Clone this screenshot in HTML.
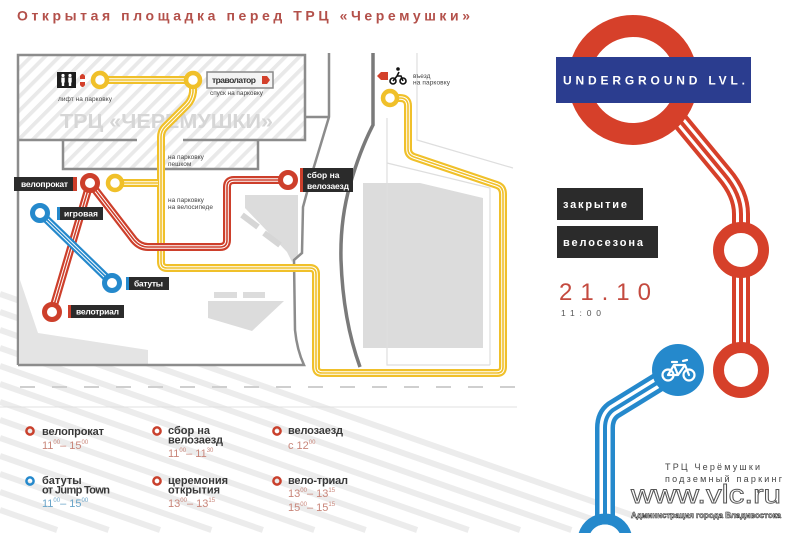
<!DOCTYPE html>
<html><head><meta charset="utf-8"><style>
html,body{margin:0;padding:0;background:#fff;}
body{width:800px;height:533px;overflow:hidden;}
svg{display:block;overflow:hidden;font-family:"Liberation Sans","DejaVu Sans",sans-serif;}
</style></head><body>
<svg width="800" height="533" viewBox="0 0 800 533" xmlns="http://www.w3.org/2000/svg">
<defs>
<pattern id="hatch" width="10" height="10" patternUnits="userSpaceOnUse" patternTransform="rotate(45)">
<rect width="3.8" height="10" fill="#e9e9e9"/></pattern>
</defs>
<rect width="800" height="533" fill="#fff"/>

<!-- background diagonal stripes -->
<g stroke="#ececec" stroke-width="6">
<line x1="0" y1="294" x2="635" y2="516.25"/>
<line x1="0" y1="312" x2="622.9" y2="530"/>
<line x1="0" y1="330" x2="571.4" y2="530"/>
<line x1="0" y1="348" x2="520" y2="530"/>
<line x1="0" y1="366" x2="468.6" y2="530"/>
<line x1="0" y1="384" x2="417.1" y2="530"/>
<line x1="0" y1="402" x2="365.7" y2="530"/>
<line x1="0" y1="420" x2="314.3" y2="530"/>
<line x1="0" y1="438" x2="262.9" y2="530"/>
<line x1="0" y1="456" x2="211.4" y2="530"/>
<line x1="0" y1="474" x2="160" y2="530"/>
<line x1="0" y1="492" x2="108.6" y2="530"/>
<line x1="0" y1="510" x2="57.1" y2="530"/>
</g>

<!-- title -->
<text x="17" y="20.5" font-size="14" font-weight="bold" fill="#b3504a" textLength="453" lengthAdjust="spacing">Открытая площадка перед ТРЦ «Черемушки»</text>

<!-- map interior -->
<rect x="18" y="55" width="287" height="310" fill="#fff"/>
<rect x="19" y="56" width="286" height="84" fill="url(#hatch)"/>
<rect x="63" y="140" width="195" height="29" fill="url(#hatch)"/>
<text x="60" y="128" font-size="20" font-weight="bold" fill="#d6d6d6" textLength="213" lengthAdjust="spacingAndGlyphs">ТРЦ «ЧЕРЕМУШКИ»</text>

<!-- gray shapes -->
<g fill="#dcdcdc">
<path d="M20,280 L38,333 L148,350 L148,365 L20,365 Z" fill="#e4e4e4"/>
<path d="M245,195 L298,195 L298,257 L292,262 L287,252 L245,208 Z"/>
<rect x="214" y="292" width="23" height="6"/>
<rect x="243" y="292" width="22" height="6"/>
<path d="M208,301 L284,301 L252,331 L208,318 Z"/>
<path d="M363,183 L420,183 L483,198 L483,348 L363,348 Z"/>
</g>
<g stroke="#d6d6d6" stroke-width="6"><line x1="242" y1="215" x2="258" y2="227"/><line x1="264" y1="233" x2="280" y2="245"/></g>

<!-- faint lines -->
<g stroke="#dedede" stroke-width="1.2" fill="none">
<path d="M387,118 L387,365 L490,365"/>
<path d="M387,163 L490,188 L490,365"/>
<path d="M417,53 L417,140 L513,168"/>
</g>

<!-- map outlines -->
<g stroke="#8c8c8c" stroke-width="2.5" fill="none">
<path d="M18,365 L18,55 L305,55 L305,140 L183,140"/>
<path d="M137,140 L18,140"/>
<path d="M63,140 L63,169 L258,169 L258,140"/>
<path d="M305,117 L329,117"/>
<path d="M329,53 L329,117 L313,170 L303,207 L302,253 L294,260 L295,330 Q297,350 304,365 L18,365"/>
</g>
<path d="M373,53 L373,125 Q360,150 350,185 Q340,220 341,260 Q343,320 360,367" stroke="#7a7a7a" stroke-width="3.5" fill="none"/>

<!-- dashed and solid lines -->
<line x1="20" y1="387" x2="517" y2="387" stroke="#cfcfcf" stroke-width="2" stroke-dasharray="15 17"/>
<line x1="0" y1="407" x2="517" y2="407" stroke="#e0e0e0" stroke-width="1"/>

<!-- yellow route -->
<g fill="none" stroke-linejoin="round">
<g stroke="#f0c02a" stroke-width="8">
<path d="M100,80 L193,80 L193,92 Q192,100 187,105 L165,127 Q161,131 161,137 L161,262 Q161,268 167,268 L310,268 Q316,268 316,274 L316,367 Q316,373 322,373 L497,373 Q503,373 503,367 L503,194 Q503,187 497,185 L414,157 Q408,155 408,149 L408,106 Q408,98 400,98 L390,98"/>
<path d="M115,183 L161,183"/>
</g>
<g stroke="#fff" stroke-width="3.6">
<path d="M100,80 L193,80 L193,92 Q192,100 187,105 L165,127 Q161,131 161,137 L161,262 Q161,268 167,268 L310,268 Q316,268 316,274 L316,367 Q316,373 322,373 L497,373 Q503,373 503,367 L503,194 Q503,187 497,185 L414,157 Q408,155 408,149 L408,106 Q408,98 400,98 L390,98"/>
<path d="M115,183 L158,183"/>
</g>
<g stroke="#f0c02a" stroke-width="1.6">
<path d="M100,80 L193,80 L193,92 Q192,100 187,105 L165,127 Q161,131 161,137 L161,262 Q161,268 167,268 L310,268 Q316,268 316,274 L316,367 Q316,373 322,373 L497,373 Q503,373 503,367 L503,194 Q503,187 497,185 L414,157 Q408,155 408,149 L408,106 Q408,98 400,98 L390,98"/>
<path d="M115,183 L158,183"/>
</g>
</g>

<!-- red routes -->
<g fill="none" stroke-linejoin="round">
<g stroke="#cd3f2b" stroke-width="8">
<path d="M90,183 L52,312"/>
<path d="M90,183 L134,240 Q140,247 148,247 L220,247 Q227,247 227,240 L227,187 Q227,180 234,180 L288,180"/>
</g>
<g stroke="#fff" stroke-width="3.6">
<path d="M90,183 L52,312"/>
<path d="M90,183 L134,240 Q140,247 148,247 L220,247 Q227,247 227,240 L227,187 Q227,180 234,180 L288,180"/>
</g>
<g stroke="#cd3f2b" stroke-width="1.6">
<path d="M90,183 L52,312"/>
<path d="M90,183 L134,240 Q140,247 148,247 L220,247 Q227,247 227,240 L227,187 Q227,180 234,180 L288,180"/>
</g>
</g>
<!-- blue route -->
<g fill="none">
<path d="M40,213 L112,283" stroke="#2589cc" stroke-width="8"/>
<path d="M40,213 L112,283" stroke="#fff" stroke-width="3.6"/>
<path d="M40,213 L112,283" stroke="#2589cc" stroke-width="1.6"/>
</g>

<!-- nodes -->
<g fill="#fff" stroke-width="4.5">
<circle cx="100" cy="80" r="7" stroke="#f0c02a"/>
<circle cx="193" cy="80" r="7" stroke="#f0c02a"/>
<circle cx="115" cy="183" r="7" stroke="#f0c02a"/>
<circle cx="390" cy="98" r="7" stroke="#f0c02a"/>
<circle cx="90" cy="183" r="7.5" stroke="#cd3f2b" stroke-width="5"/>
<circle cx="52" cy="312" r="7.5" stroke="#cd3f2b" stroke-width="5"/>
<circle cx="288" cy="180" r="7.5" stroke="#cd3f2b" stroke-width="5"/>
<circle cx="40" cy="213" r="7.5" stroke="#2589cc" stroke-width="5"/>
<circle cx="112" cy="283" r="7.5" stroke="#2589cc" stroke-width="5"/>
</g>

<!-- map labels -->
<g font-size="8.5" font-weight="bold" fill="#fff">
<rect x="14" y="177" width="59" height="14" fill="#2b2b2b"/><rect x="73" y="177" width="4" height="14" fill="#cd3f2b"/>
<text x="21" y="187" textLength="47" lengthAdjust="spacing">велопрокат</text>
<rect x="57" y="207" width="3" height="13" fill="#2589cc"/><rect x="60" y="207" width="43" height="13" fill="#2b2b2b"/>
<text x="64" y="216.5" textLength="34" lengthAdjust="spacing">игровая</text>
<rect x="126" y="277" width="3" height="13" fill="#2589cc"/><rect x="129" y="277" width="40" height="13" fill="#2b2b2b"/>
<text x="134" y="286.5" textLength="29" lengthAdjust="spacing">батуты</text>
<rect x="68" y="305" width="3" height="13" fill="#cd3f2b"/><rect x="71" y="305" width="53" height="13" fill="#2b2b2b"/>
<text x="76" y="314.5" textLength="43" lengthAdjust="spacing">велотриал</text>
<rect x="300" y="168" width="3" height="24" fill="#cd3f2b"/><rect x="303" y="168" width="50" height="24" fill="#2b2b2b"/>
<text x="307" y="178">сбор на</text>
<text x="307" y="189" textLength="42" lengthAdjust="spacing">велозаезд</text>
</g>

<!-- travolator -->
<rect x="207" y="72" width="66" height="16" fill="#f4f4f4" stroke="#8a8a8a" stroke-width="1.5"/>
<text x="212" y="83" font-size="8.5" font-weight="bold" fill="#333" textLength="44" lengthAdjust="spacing">траволатор</text>
<path d="M262,76 L267,76 L270,80 L267,84 L262,84 Z" fill="#d3402b"/>

<!-- lift icon -->
<rect x="57" y="72" width="19" height="16" fill="#1e1e1e"/>
<g fill="#fff">
<circle cx="63" cy="75.5" r="1.6"/><rect x="61.3" y="77.5" width="3.4" height="5"/><rect x="61.8" y="82" width="2.4" height="4"/>
<circle cx="70" cy="75.5" r="1.6"/><rect x="68.3" y="77.5" width="3.4" height="5"/><rect x="68.8" y="82" width="2.4" height="4"/>
</g>
<path d="M80,79 L80,76 Q82.5,72 85,76 L85,79 Z" fill="#d3402b"/>
<path d="M80,82 L85,82 L85,85 Q82.5,89 80,85 Z" fill="#d3402b"/>

<!-- small labels -->
<g font-size="6.5" fill="#444">
<text x="58" y="101" textLength="54" lengthAdjust="spacing">лифт на парковку</text>
<text x="210" y="95" textLength="53" lengthAdjust="spacing">спуск на парковку</text>
<text x="168" y="159">на парковку</text>
<text x="168" y="166">пешком</text>
<text x="168" y="202">на парковку</text>
<text x="168" y="209" textLength="45" lengthAdjust="spacing">на велосипеде</text>
<text x="413" y="78">въезд</text>
<text x="413" y="84.5" textLength="37" lengthAdjust="spacing">на парковку</text>
</g>
<!-- entry arrow and bike -->
<path d="M377,76 L381,72 L388,72 L388,80 L381,80 Z" fill="#d3402b"/>
<g stroke="#111" stroke-width="1.6" fill="none">
<circle cx="393" cy="81" r="3"/><circle cx="403" cy="81" r="3"/>
<path d="M393,81 L397,76 L401,76 L403,81 M397,76 L399,72"/>
</g>
<circle cx="398" cy="69" r="1.8" fill="#111"/>

<!-- ===== right panel ===== -->
<g fill="none">
<path d="M676,116 L724,174 Q741,194 741,214 L741,370" stroke="#d6402a" stroke-width="18"/>
<path d="M676,116 L724,174 Q741,194 741,214 L741,370" stroke="#fff" stroke-width="10"/>
<path d="M676,116 L724,174 Q741,194 741,214 L741,370" stroke="#d6402a" stroke-width="4"/>
</g>
<circle cx="633" cy="80" r="54" fill="none" stroke="#d6402a" stroke-width="22"/>
<rect x="556" y="57" width="195" height="46" fill="#2b3d8f"/>
<text x="563" y="84.5" font-size="12" font-weight="bold" fill="#fff" textLength="182" lengthAdjust="spacing">UNDERGROUND LVL.</text>
<circle cx="741" cy="250" r="22.5" fill="#fff" stroke="#d6402a" stroke-width="11"/>
<circle cx="741" cy="370" r="22.5" fill="#fff" stroke="#d6402a" stroke-width="11"/>

<g fill="none">
<path d="M678,370 L613,410 Q605,416 605,428 L605,520" stroke="#2589cc" stroke-width="20"/>
<path d="M678,370 L613,410 Q605,416 605,428 L605,520" stroke="#fff" stroke-width="11"/>
<path d="M678,370 L613,410 Q605,416 605,428 L605,520" stroke="#2589cc" stroke-width="4"/>
</g>
<circle cx="678" cy="370" r="26" fill="#2589cc"/>
<g stroke="#fff" stroke-width="2.2" fill="none" stroke-linejoin="round" stroke-linecap="round">
<circle cx="668" cy="375" r="5.5"/><circle cx="689" cy="375" r="5.5"/>
<path d="M668,375 L674,365 L685,365 L689,375 M674,365 L678,375 L685,365 M668,375 L678,375"/>
<path d="M672,362 L677,362 M683,361 L687,360"/>
</g>
<!-- bottom blue ring (clipped at frame edge) -->
<path d="M578.7,533 A27.5,27.5 0 0 1 631.3,533 L619.43,533 A16.5,16.5 0 0 0 590.57,533 Z" fill="#2589cc"/>
<path d="M590.57,533 A16.5,16.5 0 0 1 619.43,533 Z" fill="#fff"/>

<rect x="557" y="188" width="86" height="32" fill="#2b2b2b"/>
<text x="563" y="208" font-size="11" font-weight="bold" fill="#fff" textLength="64" lengthAdjust="spacing">закрытие</text>
<rect x="557" y="226" width="101" height="32" fill="#2b2b2b"/>
<text x="563" y="246" font-size="11" font-weight="bold" fill="#fff" textLength="80" lengthAdjust="spacing">велосезона</text>
<text x="559" y="300" font-size="24" fill="#c44a3f" textLength="92" lengthAdjust="spacing">21.10</text>
<text x="561" y="316" font-size="8.5" fill="#555" textLength="40" lengthAdjust="spacing">11:00</text>

<text x="665" y="470" font-size="9" fill="#444" textLength="95" lengthAdjust="spacing">ТРЦ Черёмушки</text>
<text x="665" y="482" font-size="9" fill="#444" textLength="117" lengthAdjust="spacing">подземный паркинг</text>
<text x="631" y="503" font-size="26" fill="#fff" stroke="#555" stroke-width="0.9" textLength="150" lengthAdjust="spacingAndGlyphs">www.vlc.ru</text>
<text x="631" y="518" font-size="8.5" font-weight="bold" fill="#fff" stroke="#333" stroke-width="0.6" textLength="150" lengthAdjust="spacingAndGlyphs">Администрация города Владивостока</text>

<!-- ===== legend ===== -->
<g fill="none" stroke-width="2.5">
<circle cx="30" cy="431" r="3.6" stroke="#c9402c"/>
<circle cx="157" cy="431" r="3.6" stroke="#c9402c"/>
<circle cx="277" cy="431" r="3.6" stroke="#c9402c"/>
<circle cx="30" cy="481" r="3.6" stroke="#2589cc"/>
<circle cx="157" cy="481" r="3.6" stroke="#c9402c"/>
<circle cx="277" cy="481" r="3.6" stroke="#c9402c"/>
</g>
<g font-size="11" font-weight="bold" fill="#383838">
<text x="42" y="435" textLength="62" lengthAdjust="spacing">велопрокат</text>
<text x="168" y="434">сбор на</text>
<text x="168" y="443.5" textLength="55" lengthAdjust="spacing">велозаезд</text>
<text x="288" y="434" textLength="55" lengthAdjust="spacing">велозаезд</text>
<text x="42" y="484">батуты</text>
<text x="42" y="493.5" textLength="68" lengthAdjust="spacing">от Jump Town</text>
<text x="168" y="484" textLength="60" lengthAdjust="spacing">церемония</text>
<text x="168" y="493.5">открытия</text>
<text x="288" y="484" textLength="60" lengthAdjust="spacing">вело-триал</text>
</g>
<g font-size="11" fill="#c9867a">
<text x="42" y="449">11<tspan font-size="6" dy="-5">00</tspan><tspan dy="5">– 15</tspan><tspan font-size="6" dy="-5">00</tspan></text>
<text x="168" y="457">11<tspan font-size="6" dy="-5">00</tspan><tspan dy="5">– 11</tspan><tspan font-size="6" dy="-5">30</tspan></text>
<text x="288" y="449">с 12<tspan font-size="6" dy="-5">00</tspan></text>
<text x="42" y="507" fill="#6aa5c9">11<tspan font-size="6" dy="-5">00</tspan><tspan dy="5">– 15</tspan><tspan font-size="6" dy="-5">00</tspan></text>
<text x="168" y="507">13<tspan font-size="6" dy="-5">00</tspan><tspan dy="5">– 13</tspan><tspan font-size="6" dy="-5">15</tspan></text>
<text x="288" y="497">13<tspan font-size="6" dy="-5">00</tspan><tspan dy="5">– 13</tspan><tspan font-size="6" dy="-5">15</tspan></text>
<text x="288" y="511">15<tspan font-size="6" dy="-5">00</tspan><tspan dy="5">– 15</tspan><tspan font-size="6" dy="-5">15</tspan></text>
</g>
</svg>
</body></html>
